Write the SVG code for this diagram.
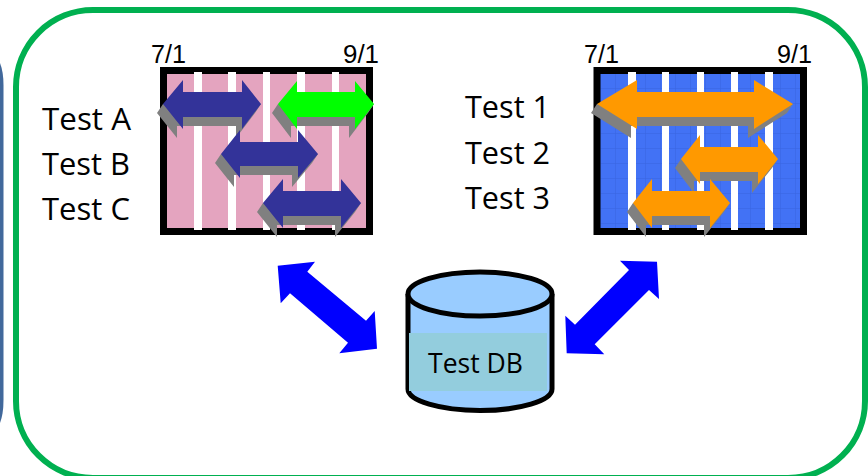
<svg xmlns="http://www.w3.org/2000/svg" width="868" height="476" viewBox="0 0 868 476">
<defs>
<pattern id="grid" width="15" height="15" patternUnits="userSpaceOnUse" x="601" y="74">
<rect width="15" height="15" fill="#4272f5"/>
<path d="M15 0V15M0 15H15" stroke="#3864e0" stroke-width="1" fill="none"/>
</pattern>
<style>
.lbl{font-family:"Open Sans","Noto Sans",sans-serif;fill:#000}
.big{font-size:31px}
.date{font-family:"Liberation Sans",sans-serif;font-size:26px;fill:#000}
.frame{stroke:#000;stroke-width:7}
.st{fill:#fff}
.sh{fill:#808080}
.navy{fill:#333399}
.lime{fill:#00ff00}
.org{fill:#ff9900}
.link{fill:#0000ff}
</style>
</defs>
<rect width="868" height="476" fill="#fff"/>
<path id="side-panel" d="M0 63Q3.500 72 3.500 85V400Q3.500 414 0 423Z" fill="#41689b"/>
<rect id="container" x="16" y="10" width="849" height="468" rx="77" ry="77" fill="#fff" stroke="#00b050" stroke-width="6"/>

<g id="chart-left">
<rect class="frame" x="163.500" y="70.500" width="206" height="161" fill="#e4a4bf"/>
<g class="st"><rect x="194" y="72" width="8" height="158"/><rect x="228" y="72" width="8" height="158"/><rect x="263" y="72" width="7" height="158"/><rect x="297" y="72" width="8" height="158"/><rect x="332" y="72" width="7" height="158"/></g>
<g id="test-a"><polygon class="sh" points="163,104 157,113 177,138 177,126 236,126 236,138 255,113 261,104"/><polygon class="navy" points="163,104 183,80 183,92 242,92 242,80 261,104 242,129 242,117 183,117 183,129"/></g>
<g id="test-a2"><polygon class="sh" points="278,104 272,113 291,138 291,126 349,126 349,138 368,113 374,104"/><polygon class="lime" points="278,104 297,81 297,92 355,92 355,81 374,104 355,129 355,117 297,117 297,129"/></g>
<g id="test-b"><polygon class="sh" points="221,154 215,163 234,187 234,175 292,175 292,187 312,163 318,154"/><polygon class="navy" points="221,154 240,130 240,142 298,142 298,130 318,154 298,178 298,166 240,166 240,178"/></g>
<g id="test-c"><polygon class="sh" points="263,203 257,212 277,237 277,225 335,225 335,237 355,212 361,203"/><polygon class="navy" points="263,203 283,179 283,191 341,191 341,179 361,203 341,228 341,216 283,216 283,228"/></g>
</g>

<g id="chart-right">
<rect class="frame" x="597" y="70.500" width="206.500" height="161" fill="url(#grid)"/>
<g class="st"><rect x="628" y="72" width="8" height="158"/><rect x="662" y="72" width="7" height="158"/><rect x="697" y="72" width="7" height="158"/><rect x="731" y="72" width="7" height="158"/><rect x="765" y="72" width="8" height="158"/></g>
<g id="test-1"><polygon class="sh" points="597,104 591,113 631,138 631,126 748,126 748,138 787,113 793,104"/><polygon class="org" points="597,104 637,80 637,92 754,92 754,80 793,104 754,129 754,117 637,117 637,129"/></g>
<g id="test-2"><polygon class="sh" points="681,159 675,168 694,193 694,181 752,181 752,193 772,168 778,159"/><polygon class="org" points="681,159 700,135 700,147 758,147 758,135 778,159 758,184 758,172 700,172 700,184"/></g>
<g id="test-3"><polygon class="sh" points="633,203 627,212 646,237 646,225 704,225 704,237 724,212 730,203"/><polygon class="org" points="633,203 652,179 652,191 710,191 710,179 730,203 710,228 710,216 652,216 652,228"/></g>
</g>

<g id="labels-left">
<text class="lbl big" x="42" y="130" textLength="89" lengthAdjust="spacingAndGlyphs">Test A</text>
<text class="lbl big" x="42" y="175" textLength="88" lengthAdjust="spacingAndGlyphs">Test B</text>
<text class="lbl big" x="42" y="220" textLength="88" lengthAdjust="spacingAndGlyphs">Test C</text>
<text class="date" x="151" y="63" textLength="35" lengthAdjust="spacingAndGlyphs">7/1</text>
<text class="date" x="343" y="63" textLength="36" lengthAdjust="spacingAndGlyphs">9/1</text>
</g>
<g id="labels-right">
<text class="lbl big" x="465" y="118" textLength="85" lengthAdjust="spacingAndGlyphs">Test 1</text>
<text class="lbl big" x="465" y="164" textLength="85" lengthAdjust="spacingAndGlyphs">Test 2</text>
<text class="lbl big" x="465" y="209" textLength="85" lengthAdjust="spacingAndGlyphs">Test 3</text>
<text class="date" x="584" y="63" textLength="35" lengthAdjust="spacingAndGlyphs">7/1</text>
<text class="date" x="777" y="63" textLength="35" lengthAdjust="spacingAndGlyphs">9/1</text>
</g>

<g id="test-db">
<path d="M408 294V389A72 21.500 0 0 0 552 389V294" fill="#99ccff" stroke="#000" stroke-width="5"/>
<ellipse cx="480" cy="294" rx="72" ry="22" fill="#99ccff" stroke="#000" stroke-width="5"/>
<rect x="409" y="333" width="138" height="58" fill="#93cddd"/>
<text class="lbl" x="428" y="373" font-size="27" textLength="95" lengthAdjust="spacingAndGlyphs">Test DB</text>
</g>

<g id="connectors">
<polygon class="link" points="277.700,265.700 315,261.700 307.300,271.700 366,320.700 374.700,311 377,348.700 339.300,353.300 348,342.700 290,293.300 280.700,303.300"/>
<polygon class="link" points="620,260.700 657,261.700 659,299 649,290 594.700,344.300 604.300,354.300 566.700,353.300 565.300,315.700 575,324.700 629,270"/>
</g>
</svg>
